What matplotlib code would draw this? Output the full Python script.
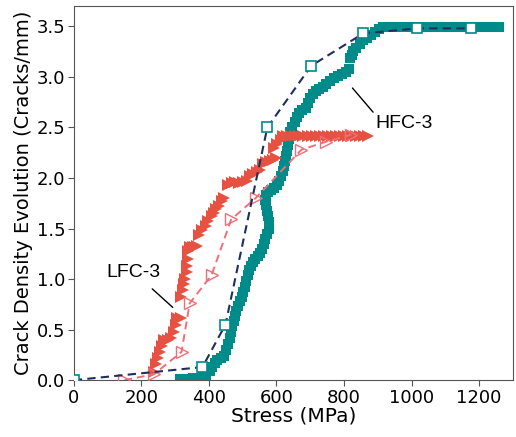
"""
Crack density evolution vs. applied stress for HFC-3 and LFC-3,
experimental points (filled) and model curves (open markers, dashed).
"""
import matplotlib
matplotlib.use('Agg')
import matplotlib.pyplot as plt

# HFC-3 experiment (filled teal squares)
hfc_x = [315, 328, 341, 354, 367, 380, 392, 402, 410, 418, 425, 435, 446, 452,
         456, 461, 465, 469, 473, 477, 481, 486, 491, 497, 502, 507, 511, 515,
         520, 525, 530, 537, 544, 551, 557, 562, 567, 572, 577, 578, 576, 573,
         569, 566, 569, 576, 585, 594, 603, 609, 614, 618, 621, 624, 627, 630,
         633, 636, 640, 647, 654, 660, 667, 677, 688, 694, 699, 707, 716, 727,
         738, 748, 758, 770, 782, 794, 806, 816, 818, 823, 828, 836, 846, 857,
         868, 880, 892, 904, 916, 930, 945, 960, 975, 990, 1005, 1020, 1035,
         1050, 1065, 1080, 1095, 1110, 1125, 1140, 1155, 1170, 1185, 1200,
         1215, 1230, 1245, 1259]
hfc_y = [0.01, 0.01, 0.01, 0.02, 0.02, 0.03, 0.05, 0.09, 0.13, 0.17, 0.20, 0.22,
         0.24, 0.30, 0.36, 0.42, 0.48, 0.54, 0.59, 0.63, 0.68, 0.73, 0.78, 0.82,
         0.87, 0.92, 0.98, 1.04, 1.09, 1.13, 1.17, 1.20, 1.23, 1.26, 1.30, 1.35,
         1.40, 1.45, 1.50, 1.56, 1.62, 1.67, 1.73, 1.78, 1.83, 1.86, 1.88, 1.90,
         1.93, 1.97, 2.02, 2.07, 2.12, 2.17, 2.22, 2.27, 2.33, 2.39, 2.45, 2.50,
         2.55, 2.60, 2.64, 2.67, 2.69, 2.74, 2.79, 2.83, 2.86, 2.88, 2.90, 2.93,
         2.96, 2.99, 3.01, 3.03, 3.05, 3.08, 3.19, 3.22, 3.26, 3.29, 3.33, 3.36,
         3.38, 3.41, 3.44, 3.47, 3.49, 3.49, 3.49, 3.49, 3.49, 3.49, 3.49, 3.49,
         3.49, 3.49, 3.49, 3.49, 3.49, 3.49, 3.49, 3.49, 3.49, 3.49, 3.49, 3.49,
         3.49, 3.49, 3.49, 3.49]

# LFC-3 experiment (filled red triangles)
lfc_x = [238, 243, 248, 255, 262, 268, 278, 288, 296, 302, 306, 316, 318, 322,
         326, 330, 334, 336, 338, 338, 344, 352, 360, 366, 372, 380, 390, 398,
         408, 415, 422, 430, 438, 446, 458, 468, 478, 490, 500, 512, 522, 532,
         542, 552, 560, 570, 580, 590, 600, 592, 602, 612, 620, 632, 644, 656,
         668, 680, 692, 704, 716, 728, 740, 752, 764, 776, 788, 800, 812, 824,
         836, 848, 860, 872]
lfc_y = [0.08, 0.16, 0.22, 0.28, 0.34, 0.40, 0.40, 0.42, 0.48, 0.55, 0.62, 0.62,
         0.82, 0.89, 0.95, 1.00, 1.07, 1.13, 1.20, 1.28, 1.32, 1.32, 1.32, 1.33,
         1.44, 1.49, 1.53, 1.57, 1.62, 1.65, 1.69, 1.72, 1.77, 1.80, 1.93, 1.95,
         1.96, 1.95, 1.96, 1.97, 2.02, 2.04, 2.06, 2.08, 2.14, 2.16, 2.17, 2.18,
         2.20, 2.30, 2.34, 2.38, 2.42, 2.42, 2.42, 2.42, 2.42, 2.42, 2.42, 2.42,
         2.42, 2.42, 2.42, 2.42, 2.42, 2.42, 2.42, 2.42, 2.42, 2.42, 2.42, 2.42,
         2.42, 2.42]

# model curves
hfc_model_x = [0, 381, 449, 573, 703, 857, 1017, 1176]
hfc_model_y = [0.0, 0.13, 0.55, 2.50, 3.11, 3.43, 3.48, 3.48]
lfc_model_x = [150, 238, 319, 343, 408, 466, 538, 674, 748, 822]
lfc_model_y = [0.0, 0.06, 0.28, 0.76, 1.04, 1.59, 1.80, 2.28, 2.36, 2.43]

teal = '#008b8b'
red = '#e65142'
pink = '#ef6f78'
navy = '#1d2f5e'

fig = plt.figure(figsize=(5.16, 4.37), dpi=100)
ax = fig.add_axes([0.143, 0.130, 0.851, 0.856])

ax.plot(hfc_x, hfc_y, 's', color=teal, markersize=7.5, markeredgewidth=0, zorder=2)
ax.plot(lfc_x, lfc_y, '>', color=red, markersize=8, markeredgewidth=0, zorder=2)
ax.plot(lfc_model_x, lfc_model_y, '--', color=pink, linewidth=1.4,
        dashes=(4, 2.5), marker='>', markersize=8, markerfacecolor='none',
        markeredgecolor=pink, markeredgewidth=1.0, zorder=3)
ax.plot(hfc_model_x, hfc_model_y, '--', color=navy, linewidth=1.5,
        dashes=(4, 2.5), zorder=4)
ax.plot(hfc_model_x, hfc_model_y, 's', markersize=7.5, markerfacecolor='white',
        markeredgecolor=teal, markeredgewidth=1.2, zorder=4)

ax.annotate('HFC-3', xy=(825, 2.89), xytext=(893, 2.54), fontsize=14,
            family='Liberation Sans', va='center', ha='left',
            arrowprops=dict(arrowstyle='-', color='black', lw=1.0,
                            shrinkA=0, shrinkB=0,
                            relpos=(0, 1)))
ax.annotate('LFC-3', xy=(293, 0.72), xytext=(177, 1.07), fontsize=14,
            family='Liberation Sans', va='center', ha='center',
            arrowprops=dict(arrowstyle='-', color='black', lw=1.0,
                            shrinkA=6, shrinkB=0))

ax.set_xlim(0, 1300)
ax.set_ylim(0, 3.7)
ax.set_xticks([0, 200, 400, 600, 800, 1000, 1200])
ax.set_yticks([0.0, 0.5, 1.0, 1.5, 2.0, 2.5, 3.0, 3.5])
ax.tick_params(labelsize=13, length=4, pad=2, color='#555555')
for s in ax.spines.values():
    s.set_color('#555555')
ax.set_xlabel('Stress (MPa)', fontsize=14.5, labelpad=0)
ax.set_ylabel('Crack Density Evolution (Cracks/mm)', fontsize=14, labelpad=3)

fig.savefig('out.png', dpi=100)
